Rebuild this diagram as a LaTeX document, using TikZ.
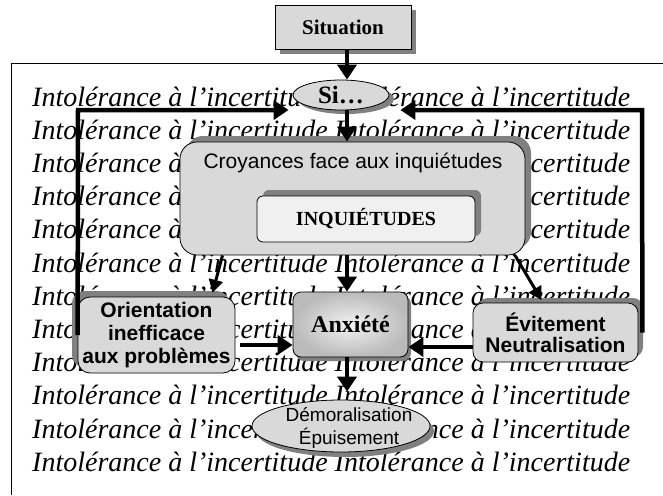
\documentclass[tikz,border=0pt]{standalone}
\usepackage{fontspec}
\setmainfont{Liberation Serif}
\setsansfont{Liberation Sans}
\usetikzlibrary{arrows.meta,shapes.geometric,shadows,calc}
\definecolor{boxgray}{HTML}{D9D9D9}
\definecolor{shadowgray}{HTML}{808080}
\definecolor{inqfill}{HTML}{F0F0F0}
\begin{document}
\begin{tikzpicture}[x=1pt,y=-1pt,
  box/.style={draw=black, line width=0.8pt, fill=boxgray, inner sep=0pt},
  shd/.style 2 args={drop shadow={shadow xshift=#1, shadow yshift=#2, fill=shadowgray, opacity=1}},
  bgtext/.style={inner sep=0pt, font=\itshape\fontsize{28}{33}\selectfont},
  arr/.style={line width=4.5pt, -{Triangle[length=15pt,width=19pt]}},
  darr/.style={line width=3pt, -{Triangle[length=13pt,width=14pt]}}
]
\useasboundingbox (0,0) rectangle (663,495);
\fill[white] (0,0) rectangle (663,495);
\draw[line width=1pt] (11,495) -- (11,63) -- (663,63);
\foreach \i in {0,...,11}
  \node[bgtext, anchor=base west] (bg\i) at (32,{106+33.2*\i}) {Intolérance à l’incertitude Intolérance à l’incertitude};

\node[box, rectangle, minimum width=136pt, minimum height=44pt, shd={5pt}{-5pt},
  font=\bfseries\fontsize{21}{24}\selectfont] (sit) at (343,27) {Situation};
\node[box, ellipse, minimum width=96pt, minimum height=30pt, shd={5pt}{-4pt},
  font=\bfseries\fontsize{25}{28}\selectfont] (si) at (341,95) {Si…};
\node[box, rounded corners=17pt, minimum width=345pt, minimum height=113pt, shd={6pt}{6pt}] (cro) at (352.5,198.5) {};
\node[inner sep=0pt, font=\sffamily\fontsize{21}{25}\selectfont] (crot) at (353,163) {Croyances face aux inquiétudes};
\node[box, fill=inqfill, rounded corners=6pt, minimum width=218pt, minimum height=46pt, shd={6pt}{6pt},
  font=\bfseries\fontsize{20}{24}\selectfont] (inq) at (366,219) {INQUIÉTUDES};
\node[box, rounded corners=12pt, minimum width=157pt, minimum height=76pt, shd={-6pt}{6pt}, align=center,
  font=\sffamily\bfseries\fontsize{21}{23}\selectfont] (ori) at (156.5,335) {Orientation\\inefficace\\aux problèmes};
\node[draw=black, line width=0.8pt, inner sep=0pt, rounded corners=8pt, inner color=white!95!black, outer color=black!27,
  minimum width=115pt, minimum height=65pt, shd={3pt}{-4pt},
  font=\bfseries\fontsize{24}{27}\selectfont] (anx) at (350.5,324.5) {Anxiété};
\node[box, rounded corners=10pt, minimum width=165pt, minimum height=59pt, shd={5pt}{5pt}, align=center,
  font=\sffamily\bfseries\fontsize{21}{21}\selectfont] (evi) at (555.5,332.5) {Évitement\\Neutralisation};
\node[box, ellipse, minimum width=178pt, minimum height=52pt, shd={4pt}{-5pt}] (dem) at (341,426) {};
\node[inner sep=0pt, align=center, font=\sffamily\fontsize{19}{23}\selectfont] (demt) at (349,428) {Démoralisation\\Épuisement};

\coordinate (ax) at (347,0);
\coordinate (ltop) at (78,110);
\coordinate (rtop) at (642,110);
\draw[arr] (sit.south -| ax) -- (si.north -| ax);
\draw[arr] (si.south -| ax) -- (cro.north -| ax);
\draw[arr] (cro.south -| ax) -- (anx.north -| ax);
\draw[arr, shorten >=8pt] (anx.south -| ax) -- (dem.north -| ax);
\draw[darr, shorten >=4pt] ([xshift=-130pt]cro.south) -- ([xshift=55pt]ori.north);
\draw[darr, shorten >=3pt] ([xshift=162.5pt]cro.south) -- ([xshift=-12.5pt]evi.north);
\draw[arr, shorten <=5pt] ([yshift=-10pt]ori.east) -- ([yshift=-20.5pt]anx.west);
\draw[arr] ([yshift=-14.5pt]evi.west) -- ([yshift=-22.5pt]anx.east);
\draw[arr] (ori.west) -- (ltop) -- ([xshift=-4pt]si.west |- ltop);
\draw[arr] ([xshift=4pt]evi.east) -- (rtop) -- ([xshift=11pt]si.east |- rtop);
\end{tikzpicture}
\end{document}
